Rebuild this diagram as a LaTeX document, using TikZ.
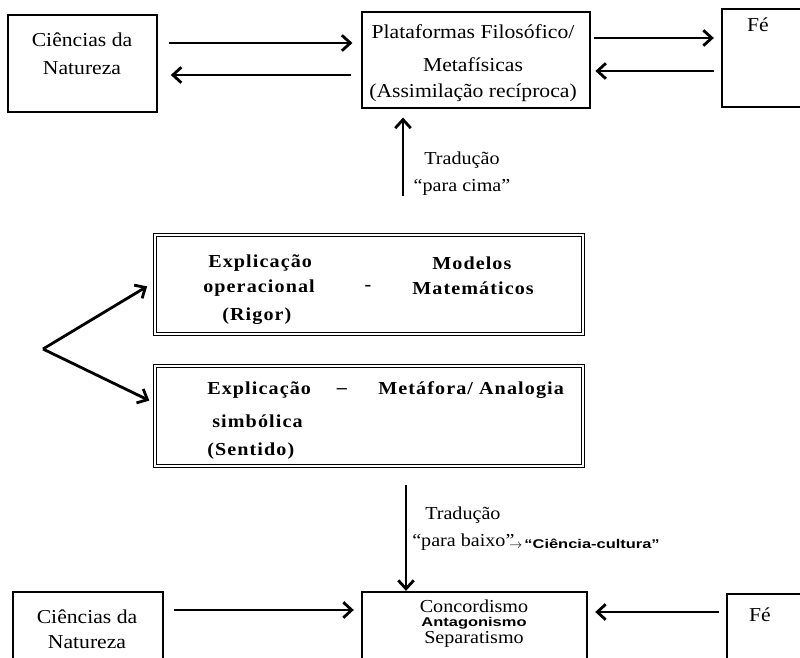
\documentclass[tikz,border=0pt]{standalone}
\usepackage{fontspec}
\setmainfont{Liberation Serif}[FakeStretch=1.1]
\newfontfamily\espacada{Liberation Serif}[FakeStretch=1.1, LetterSpace=6]
\newfontfamily\manuscrita{Liberation Sans}[FakeStretch=1.3]
\usetikzlibrary{arrows.meta}

\tikzset{
  caixa/.style={draw, line width=1.6pt, inner sep=0pt},
  caixadupla/.style={draw, double, line width=0.8pt, double distance=1.2pt, inner sep=0pt},
  texto/.style={inner sep=0pt, font=\fontsize{14}{16}\selectfont, align=center},
  textomenor/.style={inner sep=0pt, font=\fontsize{13}{15}\selectfont},
  negrito/.style={inner sep=0pt, font=\fontsize{13}{15}\espacada\bfseries},
  mao/.style={inner sep=0pt, font=\fontsize{9}{10}\manuscrita\bfseries},
  seta/.style={line width=2pt, -{Straight Barb[length=6pt,width=11pt,line width=2pt]}}
}

\begin{document}
\begin{tikzpicture}[x=0.025cm, y=-0.025cm]
  \useasboundingbox (0,0) rectangle (800,657);

  % Linha de cima
  \node[caixa, minimum width=3.725cm, minimum height=2.425cm] (natCima) at (82.5,63.5) {};
  \node[caixa, minimum width=5.7cm, minimum height=2.4cm] (plat) at (476,60) {};
  \node[caixa, minimum width=2.25cm, minimum height=2.45cm] (feCima) at (767,58) {};

  \node[texto] (tNatCima1) at (82,40) {Ciências da};
  \node[texto] (tNatCima2) at (82,68) {Natureza};
  \node[texto] (tPlat1) at (473,32) {Plataformas Filosófico/};
  \node[texto] (tPlat2) at (473,65) {Metafísicas};
  \node[texto] (tPlat3) at (473,93) {(Assimilação recíproca)};
  \node[texto] (tFeCima) at (758,25) {Fé};

  \draw[seta] (natCima.east |- 0,43) -- (plat.west |- 0,43) [shorten <=8pt, shorten >=6pt];
  \draw[seta] (plat.west |- 0,75) -- (natCima.east |- 0,75) [shorten <=7pt, shorten >=9pt];
  \draw[seta] (plat.east |- 0,38) -- (feCima.west |- 0,38) [shorten <=2pt, shorten >=5pt];
  \draw[seta] (feCima.west |- 0,71) -- (plat.east |- 0,71) [shorten <=5pt, shorten >=3pt];

  % Caixas do meio
  \node[caixadupla, minimum width=10.7cm, minimum height=2.475cm] (rigor) at (369,284.5) {};
  \node[caixadupla, minimum width=10.7cm, minimum height=2.5cm] (sentido) at (369,416) {};

  \node[negrito, anchor=west] (tRigor1) at (208,263) {Explicação};
  \node[negrito, anchor=west] (tRigor2) at (203,288) {operacional};
  \node[negrito, anchor=west] (tRigor3) at (222,316) {(Rigor)};
  \node[negrito] (tRigorTraco) at (368,288) {-};
  \node[negrito, anchor=west] (tModelos1) at (432,263) {Modelos};
  \node[negrito, anchor=west] (tModelos2) at (412,288) {Matemáticos};

  \node[negrito, anchor=west] (tSent1) at (207,390) {Explicação};
  \node[negrito, anchor=west] (tSent2) at (212,421) {simbólica};
  \node[negrito, anchor=west] (tSent3) at (207,451) {(Sentido)};
  \node[negrito] (tSentTraco) at (342,391) {\textendash};
  \node[negrito, anchor=west] (tMetafora) at (378,390) {Metáfora/\,\,Analogia};

  % Traducao para cima
  \draw[seta] (rigor.north -| 403,0) -- (plat.south -| 403,0) [shorten <=27pt, shorten >=6pt];
  \node[textomenor] (tCima1) at (462,160) {Tradução};
  \node[textomenor] (tCima2) at (462,187) {``para cima''};

  % Bifurcacao da esquerda
  \coordinate (vertice) at (43,349);
  \draw[seta] (vertice) -- (rigor.west |- 0,282) [shorten >=6pt];
  \draw[seta] (vertice) -- (sentido.west |- 0,403) [shorten >=4pt];

  % Linha de baixo
  \node[caixa, minimum width=3.75cm, minimum height=2cm] (natBaixo) at (88,632) {};
  \node[caixa, minimum width=5.625cm, minimum height=2cm] (conc) at (474.5,632) {};
  \node[caixa, minimum width=2.3cm, minimum height=2cm] (feBaixo) at (773,634) {};

  \node[texto] (tNatBaixo1) at (87,617) {Ciências da};
  \node[texto] (tNatBaixo2) at (87,642) {Natureza};
  \node[textomenor] (tConc1) at (474,606) {Concordismo};
  \node[mao] (tAntag) at (474,623) {Antagonismo};
  \node[textomenor] (tConc3) at (474,639) {Separatismo};
  \node[texto] (tFeBaixo) at (760,615) {Fé};

  \draw[seta] (natBaixo.east |- 0,610) -- (conc.west |- 0,610) [shorten <=7pt, shorten >=5pt];
  \draw[seta] (feBaixo.west |- 0,612) -- (conc.east |- 0,612) [shorten <=5pt, shorten >=5pt];

  % Traducao para baixo
  \draw[seta] (sentido.south -| 406,0) -- (conc.north -| 406,0) [shorten <=13pt];
  \node[textomenor, anchor=west] (tBaixo1) at (425,515) {Tradução};
  \node[textomenor, anchor=west] (tBaixo2) at (412,542) {``para baixo''};
  \node[mao, anchor=west] (tCultura) at (509,544) {$\rightarrow$\,\textquotedblleft Ciência-cultura\textquotedblright};
\end{tikzpicture}
\end{document}
